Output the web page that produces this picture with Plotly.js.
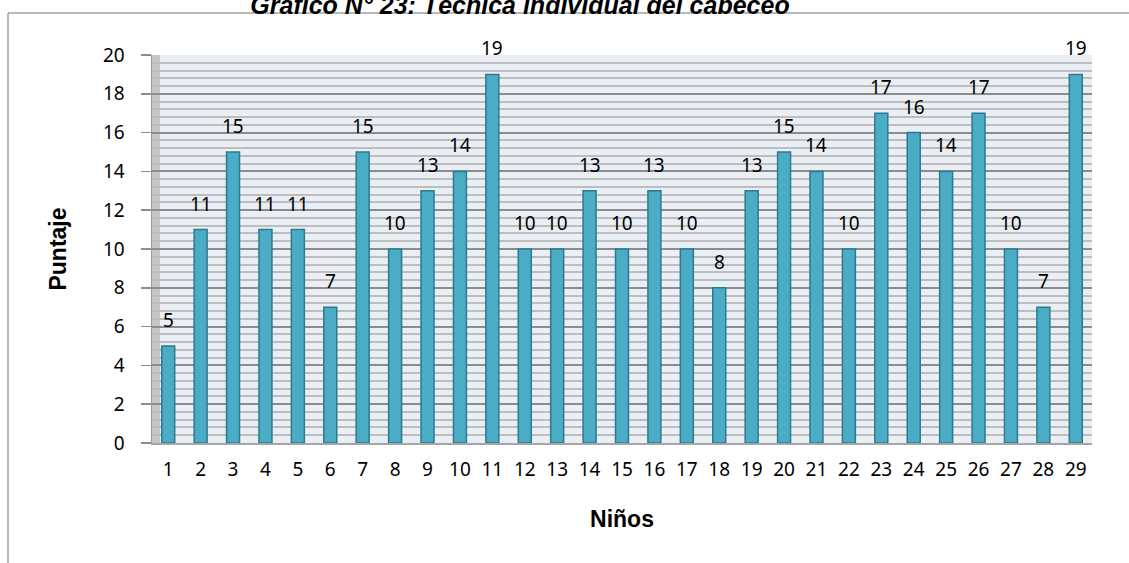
<!DOCTYPE html>
<html>
<head>
<meta charset="utf-8">
<script src="https://cdn.plot.ly/plotly-3.0.1.min.js"></script>
<style>html,body{margin:0;padding:0;background:#fff;}#chart{width:1129px;height:563px;}</style>
</head>
<body>
<div id="chart"></div>
<script>
const categories = ["1","2","3","4","5","6","7","8","9","10","11","12","13","14","15","16","17","18","19","20","21","22","23","24","25","26","27","28","29"];
const puntaje = [5,11,15,11,11,7,15,10,13,14,19,10,10,13,10,13,10,8,13,15,14,10,17,16,14,17,10,7,19];
const titleText = "Gráfico N° 23: Técnica individual del cabeceo";
const yTitle = "Puntaje";
const xTitle = "Niños";

const W = 1129, H = 563;
const m = {l:152, r:37, t:55, b:120};
const pw = W - m.l - m.r, ph = H - m.t - m.b;
const px = v => (v - m.l) / pw;
const py = v => 1 - (v - m.t) / ph;

const labelFont = {family: "Noto Sans, Open Sans, sans-serif", size: 19, color: "#000"};

const annotations = categories.map((c, i) => ({
  x: i, y: puntaje[i], xref: "x", yref: "y",
  text: String(puntaje[i]), showarrow: false,
  yanchor: "bottom", yshift: 11, font: labelFont
}));

const data = [{
  type: "bar",
  x: categories,
  y: puntaje,
  marker: {color: "#4bacc6", line: {color: "#2b7a90", width: 1.5}},
  hoverinfo: "x+y"
}];

const layout = {
  width: W, height: H,
  margin: m,
  paper_bgcolor: "#ffffff",
  plot_bgcolor: "#e9eff5",
  showlegend: false,
  bargap: 0.6,
  title: {
    text: titleText,
    font: {family: "Liberation Sans, Arial, sans-serif", size: 25, color: "#000", weight: "bold", style: "italic"},
    x: 520 / W, xanchor: "center", xref: "container",
    y: 1 - 14 / H, yanchor: "bottom", yref: "container"
  },
  xaxis: {
    type: "category",
    range: [-0.5, 28.5],
    showgrid: false,
    showline: true, linecolor: "#a6a6a6", linewidth: 2,
    ticks: "",
    ticklabelstandoff: 8,
    tickfont: labelFont,
    title: {text: xTitle, standoff: 30, font: {family: "Liberation Sans, Arial, sans-serif", size: 23, color: "#000", weight: "bold"}},
    fixedrange: true
  },
  yaxis: {
    range: [0, 20],
    tickvals: [0,2,4,6,8,10,12,14,16,18,20],
    ticks: "outside", ticklen: 10, tickcolor: "#8c8c8c", tickwidth: 1.5,
    ticklabelstandoff: 12,
    tickfont: labelFont,
    showline: true, linecolor: "#9a9a9a", linewidth: 1.5,
    showgrid: true, gridcolor: "#8c8c8c", gridwidth: 2,
    minor: {dtick: 0.4, showgrid: true, gridcolor: "#bdbdbd", gridwidth: 2},
    zeroline: false,
    title: {text: yTitle, standoff: 30, font: {family: "Liberation Sans, Arial, sans-serif", size: 23, color: "#000", weight: "bold"}},
    fixedrange: true
  },
  annotations: annotations,
  shapes: [
    {type: "line", xref: "paper", yref: "paper", x0: px(8), x1: px(W), y0: py(13), y1: py(13), line: {color: "#a0a0a0", width: 1.5}},
    {type: "line", xref: "paper", yref: "paper", x0: px(8), x1: px(8), y0: py(13), y1: py(H), line: {color: "#a0a0a0", width: 1.5}},
    {type: "rect", xref: "paper", yref: "paper", x0: 0, x1: px(160), y0: 0, y1: 1, fillcolor: "#b5b5b5", opacity: 0.7, line: {width: 0}, layer: "below"}
  ]
};

Plotly.newPlot("chart", data, layout, {displayModeBar: false, staticPlot: true});
</script>
</body>
</html>
